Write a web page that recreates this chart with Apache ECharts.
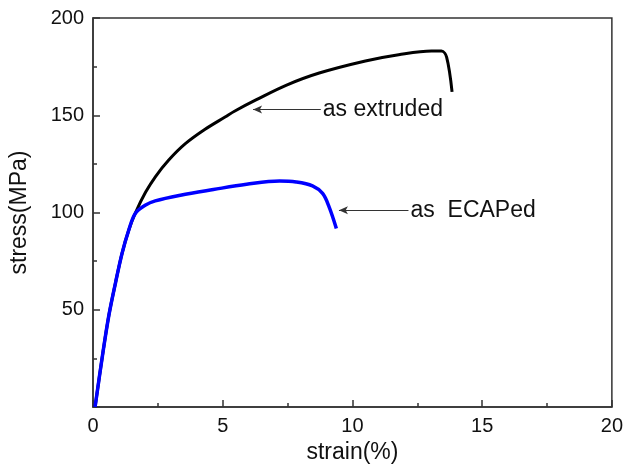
<!DOCTYPE html>
<html>
<head>
<meta charset="utf-8">
<script src="https://cdn.jsdelivr.net/npm/echarts@6/dist/echarts.min.js"></script>
<style>
  html, body { margin: 0; padding: 0; background: #fff; }
  #chart { width: 626px; height: 473px; }
</style>
</head>
<body>
<div id="chart"></div>
<script>
// strain (%) / stress (MPa)
const extrudedStrain = [0.08, 0.36, 0.61, 0.87, 1.12, 1.38, 1.64, 2.03, 2.41, 2.92, 3.56, 4.32, 5.09, 5.47, 6.3, 7.44, 8.72, 10.5, 11.78, 13.05, 13.43, 13.63, 13.84];
const extrudedStress = [0, 26, 47, 64, 79, 91, 100, 110.5, 118.5, 127, 135.4, 142.8, 149.1, 152.2, 158, 165.4, 171.7, 177.9, 181.1, 183.0, 183.0, 179.9, 162];

const ecapStrain = [0.08, 0.36, 0.61, 0.87, 1.12, 1.38, 1.63, 2.01, 2.40, 3.37, 4.64, 5.92, 7.19, 7.83, 8.46, 8.85, 9.10, 9.38];
const ecapStress = [0, 26, 47, 64, 79, 91, 99.5, 103.7, 106, 108.9, 111.8, 114.5, 116.2, 115.7, 113.7, 109.8, 102.9, 91.8];

const xTicks = [0, 5, 10, 15, 20];
const yTicks = [50, 100, 150, 200];

// arrow annotations: [tailX, headX, y, text]
const extrudedNote = [8.78, 6.17, 152.9, 'as extruded'];
const ecapNote = [12.16, 9.48, 101.2, 'as  ECAPed'];

const font = 'Arial, "Liberation Sans", sans-serif';

function pairs(xs, ys) {
  return xs.map((x, i) => [x, ys[i]]);
}

function note(n) {
  return {
    silent: true,
    symbol: ['none', 'arrow'],
    symbolSize: [6, 9],
    lineStyle: { color: '#333', width: 1, type: 'solid' },
    label: {
      show: true,
      position: 'start',
      distance: 2,
      formatter: n[3],
      color: '#111',
      fontSize: 23,
      fontFamily: font
    },
    data: [[{ coord: [n[0], n[2]] }, { coord: [n[1], n[2]] }]]
  };
}

let myChart = echarts.init(document.getElementById('chart'));
let option = {
  backgroundColor: '#fff',
  animation: false,
  grid: {
    left: 92, right: 11, top: 18, bottom: 66,
    show: true,
    borderColor: '#333',
    borderWidth: 1.5
  },
  xAxis: {
    type: 'value',
    min: 0, max: 20, interval: 5,
    name: 'strain(%)',
    nameLocation: 'middle',
    nameGap: 24,
    nameTextStyle: { fontSize: 23, fontFamily: font, color: '#111' },
    axisLine: { lineStyle: { color: '#333', width: 1.5 } },
    axisTick: { inside: true, length: 7, lineStyle: { color: '#333', width: 1.5 } },
    minorTick: { show: true, splitNumber: 2, length: 4, lineStyle: { color: '#333', width: 1.5 } },
    axisLabel: {
      margin: 9, fontSize: 20, fontFamily: font, color: '#111',
      formatter: v => xTicks.includes(v) ? String(v) : ''
    },
    splitLine: { show: false }
  },
  yAxis: {
    type: 'value',
    min: 0, max: 200, interval: 50,
    name: 'stress(MPa)',
    nameLocation: 'middle',
    nameGap: 62,
    nameTextStyle: { fontSize: 23, fontFamily: font, color: '#111' },
    axisLine: { lineStyle: { color: '#333', width: 1.5 } },
    axisTick: { inside: true, length: 7, lineStyle: { color: '#333', width: 1.5 } },
    minorTick: { show: true, splitNumber: 2, length: 4, lineStyle: { color: '#333', width: 1.5 } },
    axisLabel: {
      margin: 9, fontSize: 20, fontFamily: font, color: '#111',
      formatter: v => yTicks.includes(v) ? String(v) : ''
    },
    splitLine: { show: false }
  },
  series: [
    {
      name: 'as extruded',
      type: 'line',
      data: pairs(extrudedStrain, extrudedStress),
      smooth: 0.35,
      showSymbol: false,
      lineStyle: { color: '#000', width: 3 },
      markLine: note(extrudedNote)
    },
    {
      name: 'as ECAPed',
      type: 'line',
      data: pairs(ecapStrain, ecapStress),
      smooth: 0.35,
      showSymbol: false,
      lineStyle: { color: '#0000ff', width: 3.5 },
      markLine: note(ecapNote)
    }
  ]
};
myChart.setOption(option);
window.onresize = myChart.resize;
</script>
</body>
</html>
